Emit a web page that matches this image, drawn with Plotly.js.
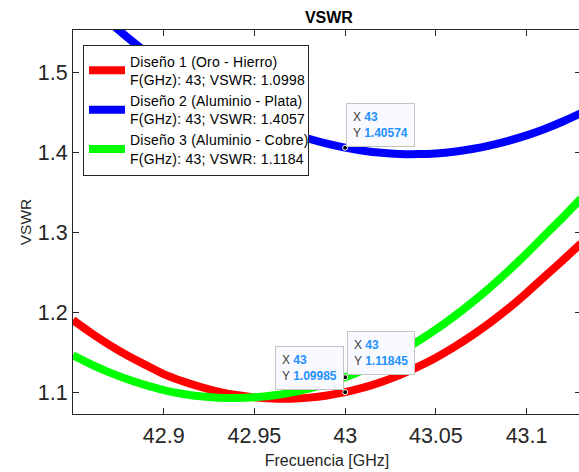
<!DOCTYPE html>
<html>
<head>
<meta charset="utf-8">
<script src="https://cdn.plot.ly/plotly-3.0.1.min.js"></script>
<style>
html,body{margin:0;padding:0;overflow:hidden;background:#fff}
#chart{width:590px;height:472px}
#chart .legendtext{letter-spacing:0.22px}
</style>
</head>
<body>
<div id="chart"></div>
<script>
// Frequency samples (GHz)
const freq = [42.85, 42.86, 42.87, 42.88, 42.89, 42.90, 42.91, 42.92, 42.93, 42.94,
              42.95, 42.96, 42.97, 42.98, 42.99, 43.00, 43.01, 43.02, 43.03, 43.04,
              43.05, 43.06, 43.07, 43.08, 43.09, 43.10, 43.11, 43.12, 43.13];
// Diseño 1 (Oro - Hierro)
const vswrOroHierro = [1.190, 1.1738, 1.159, 1.1457, 1.1339, 1.1225, 1.1138, 1.1066, 1.1006, 1.0962,
                       1.0933, 1.0918, 1.0917, 1.0930, 1.0957, 1.09985, 1.1055, 1.1126, 1.1212, 1.1314,
                       1.1430, 1.1562, 1.1709, 1.1870, 1.2046, 1.2240, 1.2445, 1.2650, 1.2860];
// Diseño 2 (Aluminio - Plata)
const vswrAlPlata = [1.605, 1.5834, 1.563, 1.5438, 1.5257, 1.5089, 1.4932, 1.4788, 1.4655, 1.4534,
                     1.4425, 1.4328, 1.4242, 1.4169, 1.4107, 1.40574, 1.4019, 1.3993, 1.3979, 1.3977,
                     1.3986, 1.4007, 1.4041, 1.4086, 1.4143, 1.4211, 1.4292, 1.4385, 1.4489];
// Diseño 3 (Aluminio - Cobre)
const vswrAlCobre = [1.1460, 1.1346, 1.1246, 1.1160, 1.1087, 1.1025, 1.0979, 1.0947, 1.0929, 1.0925,
                     1.0934, 1.0956, 1.0993, 1.1043, 1.1107, 1.11845, 1.1276, 1.1381, 1.1500, 1.1634,
                     1.1782, 1.1945, 1.2122, 1.2312, 1.2516, 1.2733, 1.2960, 1.3185, 1.3420];

const seriesNames = [
  'Diseño 1 (Oro - Hierro)<br>F(GHz): 43; VSWR: 1.0998',
  'Diseño 2 (Aluminio - Plata)<br>F(GHz): 43; VSWR: 1.4057',
  'Diseño 3 (Aluminio - Cobre)<br>F(GHz): 43; VSWR: 1.1184'
];
const seriesColors = ['#ff0000', '#0000ff', '#00ff00'];

// Data tips
const tipX = 43;
const tipLabelX = '43';
const tipY = [1.09985, 1.40574, 1.11845];
const tipLabelY = ['1.09985', '1.40574', '1.11845'];

const xTicks = [42.9, 42.95, 43, 43.05, 43.1];
const xTickText = ['42.9', '42.95', '43', '43.05', '43.1'];
const yTicks = [1.1, 1.2, 1.3, 1.4, 1.5];
const yTickText = ['1.1', '1.2', '1.3', '1.4', '1.5'];

const FONT = 'Liberation Sans, Arial, Helvetica, sans-serif';
const AX = '#262626';

const ys = [vswrOroHierro, vswrAlPlata, vswrAlCobre];
const traces = ys.map((y, i) => ({
  x: freq, y: y, type: 'scatter', mode: 'lines',
  name: seriesNames[i],
  line: {color: seriesColors[i], width: 8, shape: 'spline', smoothing: 0.6}
}));
traces.push({
  x: [tipX, tipX, tipX], y: tipY, type: 'scatter', mode: 'markers',
  showlegend: false, hoverinfo: 'skip',
  marker: {color: '#000000', size: 5, line: {color: '#ffffff', width: 1}}
});

const valStyle = 'color:#1e90ff;font-weight:bold';
function tipText(i) {
  return 'X <span style="' + valStyle + '">' + tipLabelX + '</span><br>Y <span style="' + valStyle + '">' + tipLabelY[i] + '</span>';
}
const tipAnchor = [
  {xanchor: 'right', xshift: -1, yshift: 2},
  {xanchor: 'left', xshift: 1, yshift: 1},
  {xanchor: 'left', xshift: 2, yshift: 2}
];
const annotations = tipY.map((v, i) => ({
  x: tipX, y: v, xref: 'x', yref: 'y', showarrow: false,
  text: tipText(i), align: 'left',
  xanchor: tipAnchor[i].xanchor, yanchor: 'bottom',
  xshift: tipAnchor[i].xshift, yshift: tipAnchor[i].yshift,
  bgcolor: '#f9faff', bordercolor: '#c4c4c4', borderwidth: 1, borderpad: 6,
  font: {family: FONT, size: 12, color: '#404040'}
}));

const layout = {
  width: 590, height: 472,
  margin: {l: 73, r: 9, t: 30, b: 58},
  paper_bgcolor: '#ffffff', plot_bgcolor: '#ffffff',
  showlegend: true,
  title: {
    text: '<b>VSWR</b>', x: 0.5575, xanchor: 'center', xref: 'container',
    y: 1 - 17/472, yref: 'container', yanchor: 'middle',
    font: {family: FONT, size: 16, color: '#000000'}
  },
  xaxis: {
    range: [42.85, 43.13], tickvals: xTicks, ticktext: xTickText,
    showgrid: false, zeroline: false, showline: true, linecolor: AX, linewidth: 1,
    mirror: 'ticks', ticks: 'inside', ticklen: 6, tickcolor: AX, tickwidth: 1,
    tickfont: {family: FONT, size: 21.5, color: AX}, ticklabelstandoff: 2,
    title: {text: 'Frecuencia [GHz]', font: {family: FONT, size: 16, color: AX}, standoff: 8}
  },
  yaxis: {
    range: [1.0725, 1.553], tickvals: yTicks, ticktext: yTickText,
    showgrid: false, zeroline: false, showline: true, linecolor: AX, linewidth: 1,
    mirror: 'ticks', ticks: 'inside', ticklen: 6, tickcolor: AX, tickwidth: 1,
    tickfont: {family: FONT, size: 21.5, color: AX},
    title: {text: 'VSWR', font: {family: FONT, size: 15.5, color: AX}, standoff: 2}
  },
  legend: {
    x: 0.0197, y: 0.962, xanchor: 'left', yanchor: 'top',
    bgcolor: '#ffffff', bordercolor: AX, borderwidth: 1,
    font: {family: FONT, size: 14, color: '#000000'},
    itemwidth: 36, valign: 'middle'
  },
  annotations: annotations
};

Plotly.newPlot('chart', traces, layout, {staticPlot: true, displayModeBar: false});
</script>
</body>
</html>
